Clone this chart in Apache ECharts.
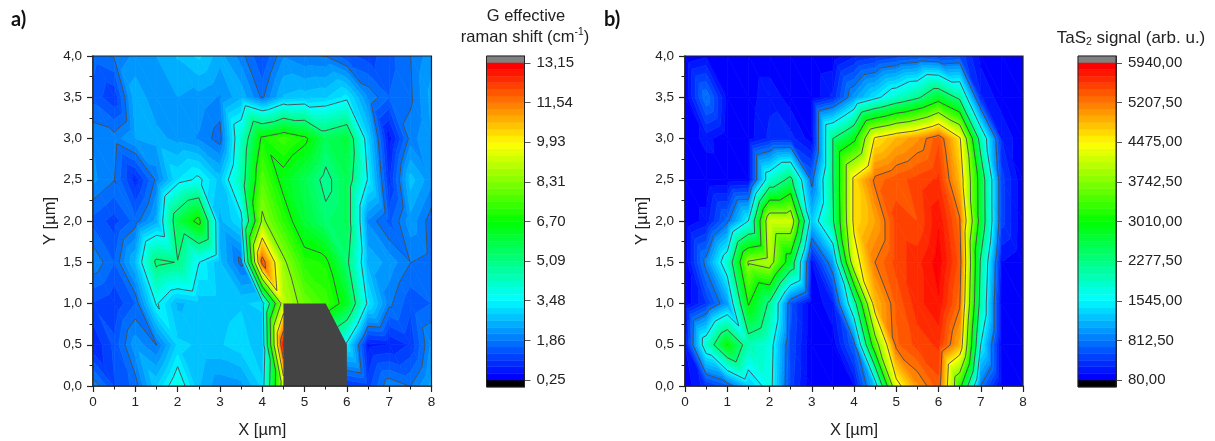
<!DOCTYPE html>
<html><head><meta charset="utf-8">
<style>html,body{margin:0;padding:0;background:#fff}#c{width:1215px;height:441px}</style>
<script src="https://cdn.jsdelivr.net/npm/echarts@6/dist/echarts.min.js"></script>
</head><body><div id="c"></div>
<script>
// measurement grid
const xValues = [0,0.5,1,1.5,2,2.5,3,3.5,4,4.5,5,5.5,6,6.5,7,7.5,8];
const yValues = [4,3.5,3,2.5,2,1.5,1,0.5,0];
// panel a: G effective raman shift, rows top to bottom
const a40 = [1.7,1.9,2.2,2.4,2.7,3.0,2.5,2.0,1.3,2.1,1.9,1.85,1.4,1.2,1.5,1.85,2.3];
const a35 = [1.5,1.1,2.6,2.2,2.4,2.3,2.1,2.6,1.8,2.7,2.8,2.9,3.3,2.1,1.6,1.8,2.5];
const a30 = [2.1,2.0,2.4,2.5,2.3,2.1,1.7,4.2,6.9,7.4,6.9,5.6,6.0,3.0,0.6,2.0,2.4];
const a25 = [2.2,1.88,0.9,1.95,3.2,3.6,2.8,4.5,7.7,6.4,5.7,4.85,5.7,3.4,1.0,2.8,2.2];
const a20 = [1.5,1.2,1.7,2.5,5.8,7.0,2.6,3.2,8.5,7.2,6.0,5.3,5.7,2.1,1.5,2.3,1.7];
const a15 = [2.1,1.6,2.7,5.3,5.05,3.5,2.7,1.75,12.0,8.5,7.1,6.9,5.3,2.6,2.3,1.87,1.75];
const a10 = [1.3,1.1,1.6,3.55,2.6,2.8,2.8,2.9,3.0,9.0,8.0,7.4,6.3,3.3,1.95,1.4,1.6];
const a05 = [0.8,1.4,2.3,1.85,3.0,2.9,2.9,3.1,2.7,12.8,8.0,6.5,3.3,0.7,0.8,1.1,2.2];
const a00 = [2.1,1.3,1.7,2.9,3.9,2.7,2.2,2.3,3.0,9.0,6.0,3.0,1.0,1.2,2.1,1.85,2.5];
// panel b: TaS2 signal, rows top to bottom
const b40 = [90,180,110,100,100,100,90,120,300,400,495,560,490,550,150,100,85];
const b35 = [100,815,150,130,300,130,100,350,1000,1430,1850,2190,2750,2150,340,120,90];
const b30 = [100,250,100,150,350,370,130,2277,2880,4550,4850,5050,5420,4550,2000,320,90];
const b25 = [100,100,120,150,1850,2420,720,2277,4600,5270,5400,5500,5600,4820,2700,500,90];
const b20 = [90,250,750,1550,4200,4200,1250,2200,4600,4950,5500,5450,5800,5250,2735,500,90];
const b15 = [100,900,1820,3800,4000,2700,200,1000,4200,5210,5500,5650,5890,5400,2200,200,80];
const b10 = [100,450,1000,3050,2200,600,90,300,2000,4800,5350,5650,5800,5250,2050,100,80];
const b05 = [200,1850,3012,2000,1750,550,90,120,700,3450,5300,5500,5600,4900,1545,100,80];
const b00 = [100,400,650,1250,1700,500,90,100,200,1250,4300,5050,5400,3200,805,120,80];
// colour scale tick labels
const aTicks = [0.25,1.86,3.48,5.09,6.70,8.31,9.93,11.54,13.15];
const bTicks = [80,812.5,1545,2277.5,3010,3742.5,4475,5207.5,5940];
// masked region in panel a
const maskX = [4.5,5.5,6,6,4.5];
const maskY = [1,1,0.5,0,0];
const xTicks = [0,1,2,3,4,5,6,7,8];

const BANDS = 48, CAP = 7/317;
const FONT = '"Liberation Sans", Arial, sans-serif';
const INK = '#222';
const aGrid = [a40,a35,a30,a25,a20,a15,a10,a05,a00];
const bGrid = [b40,b35,b30,b25,b20,b15,b10,b05,b00];

function bandColor(k){
  const t = k/(BANDS-1)*4, s = Math.min(3,Math.floor(t)), f = t-s;
  const stops = [[0,0,255],[0,255,255],[0,255,0],[255,255,0],[255,0,0]];
  const c = stops[s].map((v,i)=>Math.round(v+(stops[s+1][i]-v)*f));
  return 'rgb('+c.join(',')+')';
}
function triangles(rows){
  const out=[];
  const p=(i,j)=>[xValues[i],yValues[j],rows[j][i]];
  for(let j=0;j<yValues.length-1;j++)for(let i=0;i<xValues.length-1;i++){
    const tl=p(i,j),tr=p(i+1,j),bl=p(i,j+1),br=p(i+1,j+1);
    out.push([tl,br,bl],[tl,tr,br]);
  }
  return out;
}
function clip(poly,level,keepAbove){
  const res=[];
  for(let i=0;i<poly.length;i++){
    const a=poly[i],b=poly[(i+1)%poly.length];
    const ia=keepAbove?a[2]>=level:a[2]<=level, ib=keepAbove?b[2]>=level:b[2]<=level;
    if(ia)res.push(a);
    if(ia!==ib){const t=(level-a[2])/(b[2]-a[2]);res.push([a[0]+(b[0]-a[0])*t,a[1]+(b[1]-a[1])*t,level]);}
  }
  return res;
}
function contourSeries(rows,ticks,xi){
  const lo=ticks[0],hi=ticks[ticks.length-1],step=(hi-lo)/BANDS;
  const tris=triangles(rows);
  return [{
    type:'custom',xAxisIndex:xi,yAxisIndex:xi,silent:true,animation:false,z:2,clip:true,
    data:tris.map((_,i)=>[i]),
    renderItem(params,api){
      const tri=tris[params.dataIndex],children=[];
      const vals=tri.map(v=>v[2]);
      const k0=Math.max(0,Math.floor((Math.min(...vals)-lo)/step)),k1=Math.min(BANDS-1,Math.floor((Math.max(...vals)-lo)/step));
      for(let k=k0;k<=k1;k++){
        let poly=clip(tri,lo+k*step,true);
        if(poly.length)poly=clip(poly,lo+(k+1)*step,false);
        if(poly.length<3)continue;
        const col=bandColor(k);
        children.push({type:'polygon',shape:{points:poly.map(v=>api.coord([v[0],v[1]]))},style:{fill:col,stroke:col,lineWidth:0.7}});
      }
      return {type:'group',children};
    }
  },{
    type:'custom',xAxisIndex:xi,yAxisIndex:xi,silent:true,animation:false,z:3,clip:true,
    data:tris.map((_,i)=>[i]),
    renderItem(params,api){
      const tri=tris[params.dataIndex],children=[];
      ticks.slice(1,-1).forEach((_,n)=>{
        const L=lo+(n+1)*6*step,pts=[];
        for(let e=0;e<3;e++){
          const a=tri[e],b=tri[(e+1)%3];
          if((a[2]<L)!==(b[2]<L)){const t=(L-a[2])/(b[2]-a[2]);pts.push(api.coord([a[0]+(b[0]-a[0])*t,a[1]+(b[1]-a[1])*t]));}
        }
        if(pts.length===2)children.push({type:'polyline',shape:{points:pts},style:{stroke:'#4a4a4a',lineWidth:0.9,fill:null}});
      });
      return {type:'group',children};
    }
  }];
}
function barSeries(ticks,xi){
  const lo=ticks[0],hi=ticks[ticks.length-1],step=(hi-lo)/BANDS,cap=(hi-lo)*CAP;
  const cells=[[lo-cap,lo,'#000'],[hi,hi+cap,'#808080']];
  for(let k=0;k<BANDS;k++)cells.push([lo+k*step,lo+(k+1)*step,bandColor(k)]);
  return {
    type:'custom',xAxisIndex:xi,yAxisIndex:xi,silent:true,animation:false,z:2,
    data:cells.map((c,i)=>[i]),
    renderItem(params,api){
      const c=cells[params.dataIndex];
      const p0=api.coord([0,c[0]]),p1=api.coord([1,c[1]]);
      return {type:'rect',shape:{x:p0[0],y:p1[1],width:p1[0]-p0[0],height:p0[1]-p1[1]},style:{fill:c[2],stroke:c[2],lineWidth:0.5}};
    }
  };
}
const fmtComma=(v,d)=>v.toFixed(d).replace('.',',');
function plotX(gi){return {gridIndex:gi,type:'value',min:0,max:8,interval:1,name:'X [µm]',nameLocation:'middle',nameGap:36,
  nameTextStyle:{fontFamily:FONT,fontSize:16.5,color:INK},
  axisLine:{show:true,onZero:false,lineStyle:{color:INK,width:1.5}},axisTick:{show:true,length:6,lineStyle:{color:INK,width:1.2}},
  minorTick:{show:true,splitNumber:2,length:3.5,lineStyle:{color:INK,width:1}},splitLine:{show:false},minorSplitLine:{show:false},
  axisLabel:{fontFamily:FONT,fontSize:13.5,color:INK,margin:9,customValues:xTicks,formatter:v=>String(v)}};}
function plotY(gi){return {gridIndex:gi,type:'value',min:0,max:4,interval:0.5,name:'Y [µm]',nameLocation:'middle',nameGap:34,
  nameTextStyle:{fontFamily:FONT,fontSize:16.5,color:INK},
  axisLine:{show:true,onZero:false,lineStyle:{color:INK,width:1.5}},axisTick:{show:true,length:6,lineStyle:{color:INK,width:1.2}},
  minorTick:{show:true,splitNumber:2,length:3.5,lineStyle:{color:INK,width:1}},splitLine:{show:false},minorSplitLine:{show:false},
  axisLabel:{fontFamily:FONT,fontSize:13.5,color:INK,margin:11,formatter:v=>fmtComma(v,1)}};}
function barX(gi){return {gridIndex:gi,type:'value',min:0,max:1,show:false};}
function barY(gi,ticks){const r=ticks[ticks.length-1]-ticks[0],cap=r*CAP;
  return {gridIndex:gi,type:'value',position:'right',min:ticks[0]-cap,max:ticks[ticks.length-1]+cap,scale:true,splitLine:{show:false},
    axisLine:{show:true,onZero:false,lineStyle:{color:INK,width:1}},
    axisTick:{show:true,length:6,lineStyle:{color:'#555',width:1},customValues:ticks},
    axisLabel:{fontFamily:FONT,fontSize:15,color:INK,margin:12,customValues:ticks,showMinLabel:true,showMaxLabel:true,formatter:v=>fmtComma(v,2)}};}
const richOf=s=>({b:{fontFamily:FONT,fontSize:s,color:INK,lineHeight:20,verticalAlign:'middle'},
  sup:{fontFamily:FONT,fontSize:s*0.62,color:INK,lineHeight:20,verticalAlign:'top'},
  sub:{fontFamily:FONT,fontSize:s*0.62,color:INK,lineHeight:20,verticalAlign:'bottom'}});
const title=(text,left,top,s)=>({text,left,top,textAlign:'center',padding:0,textStyle:{rich:richOf(s),fontSize:s,fontFamily:FONT,fontWeight:'normal',lineHeight:20}});
const panel=(text,left)=>({text,left,top:10,padding:0,textStyle:{fontFamily:'Lato, "Open Sans", sans-serif',fontWeight:'bold',fontSize:20,color:'#111'}});
const maskSeries={type:'custom',xAxisIndex:0,yAxisIndex:0,silent:true,animation:false,z:4,data:[[0]],
  renderItem(params,api){return {type:'polygon',shape:{points:maskX.map((x,i)=>api.coord([x,maskY[i]]))},style:{fill:'#444444'}};}};

const gridOf=(left,width,height,borderWidth)=>({left,top:56,width,height,show:true,borderColor:INK,borderWidth,outerBoundsMode:'none',containLabel:false,z:5});
const option={
  animation:false,backgroundColor:'#fff',
  title:[panel('a)',11),panel('b)',604),
    title('{b|G effective}',526,6,16.5),title('{b|raman shift (cm}{sup|-1}{b|)}',525,27,16.5),
    title('{b|TaS}{sub|2}{b| signal (arb. u.)}',1131,28,17)],
  grid:[gridOf(93,338.5,330,1.2),gridOf(486.5,38,331,1),gridOf(685,338,330,1.2),gridOf(1078,38,331,1)],
  xAxis:[plotX(0),barX(1),plotX(2),barX(3)],
  yAxis:[plotY(0),barY(1,aTicks),plotY(2),barY(3,bTicks)],
  series:[...contourSeries(aGrid,aTicks,0),maskSeries,barSeries(aTicks,1),...contourSeries(bGrid,bTicks,2),barSeries(bTicks,3)]
};
echarts.init(document.getElementById('c'),null,{renderer:'canvas'}).setOption(option);
</script></body></html>
